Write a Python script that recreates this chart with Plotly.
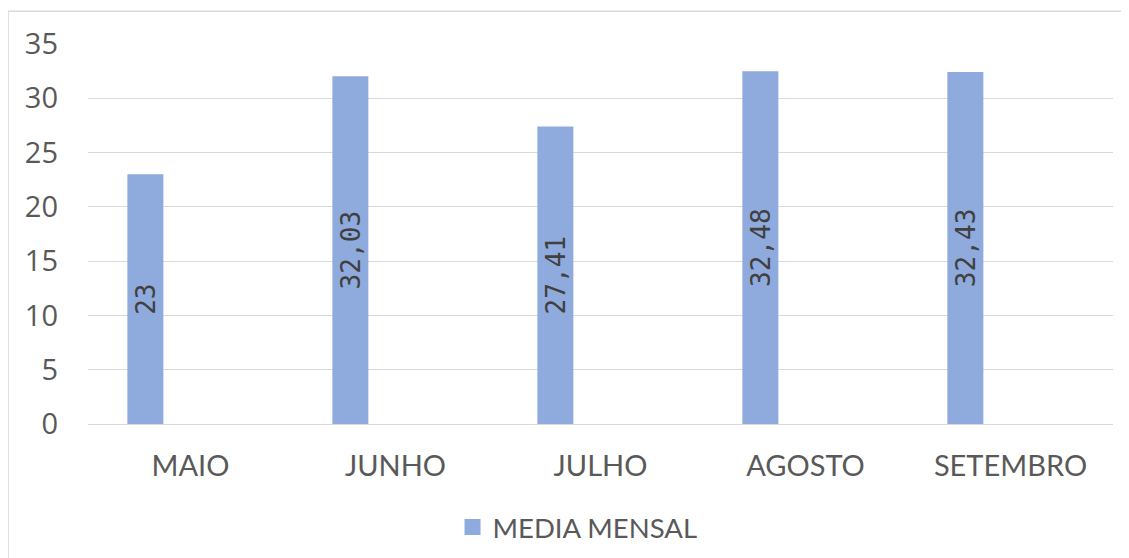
import plotly.graph_objects as go

months = ["MAIO", "JUNHO", "JULHO", "AGOSTO", "SETEMBRO"]
media_mensal = [23, 32.03, 27.41, 32.48, 32.43]
label_text = ["23", "32,03", "27,41", "32,48", "32,43"]
y_ticks = [0, 5, 10, 15, 20, 25, 30, 35]
series_name = "MEDIA MENSAL"
bar_color = "#8FAADC"

fig = go.Figure()
fig.add_trace(go.Bar(
    x=months, y=media_mensal, name=series_name,
    marker=dict(color=bar_color, line=dict(width=0)),
    width=0.1756, offset=-0.308,
    text=label_text, textposition="inside", insidetextanchor="middle",
    textangle=-90,
    textfont=dict(family="DejaVu Sans Mono, Liberation Mono, monospace", size=27, color="#404040"),
    showlegend=False,
))
# legend entry with a square swatch
fig.add_trace(go.Scatter(
    x=[None], y=[None], mode="markers", name=series_name,
    marker=dict(symbol="square", size=17, color=bar_color),
    showlegend=True,
))

fig.update_layout(
    width=1121, height=550,
    margin=dict(l=80, r=16, t=36, b=134),
    paper_bgcolor="white", plot_bgcolor="white",
    font=dict(family="Lato, Open Sans, sans-serif", color="#595959"),
    xaxis=dict(
        type="category", showgrid=False, showline=False, ticks="",
        tickfont=dict(size=29, color="#595959", family="Lato, sans-serif"),
        ticklabelstandoff=22, automargin=False,
    ),
    yaxis=dict(
        range=[0, 35], tickvals=y_ticks, showgrid=True, gridcolor="#D9D9D9",
        gridwidth=1, zeroline=True, zerolinecolor="#D9D9D9", zerolinewidth=1,
        tickfont=dict(size=29, color="#595959", family="Open Sans, sans-serif"),
        ticklabelstandoff=29, automargin=False,
    ),
    legend=dict(
        orientation="h", x=0.4776, xanchor="center",
        yref="container", y=0.056, yanchor="middle",
        font=dict(size=27.5, color="#595959", family="Lato, sans-serif"),
    ),
    shapes=[dict(
        type="rect", xref="paper", yref="paper",
        x0=-0.078, x1=1.03, y0=-0.4, y1=1.0864,
        line=dict(color="#D9D9D9", width=1.5), fillcolor="rgba(0,0,0,0)",
        layer="below",
    )],
)

fig.write_html("out.html")
